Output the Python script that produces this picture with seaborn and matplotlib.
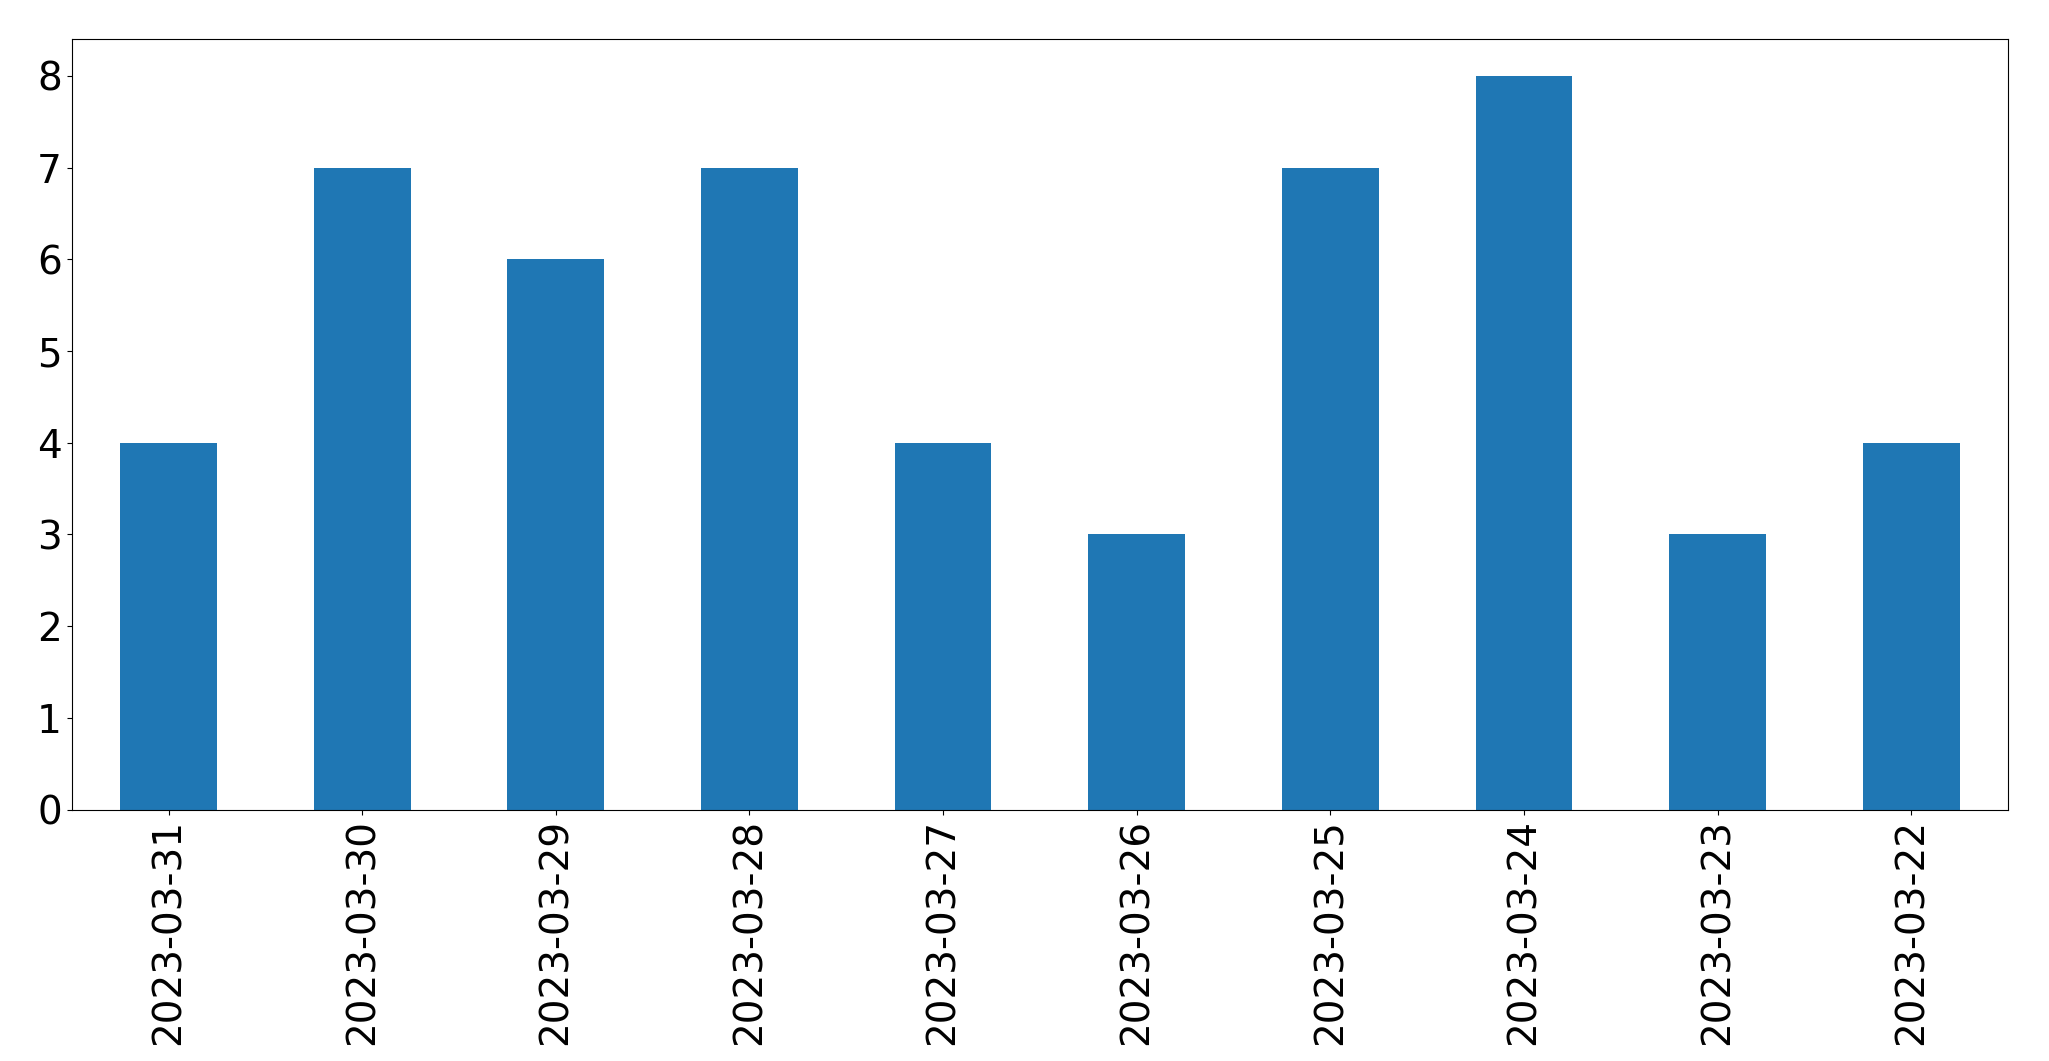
import matplotlib
matplotlib.use("Agg")
import matplotlib.pyplot as plt
import seaborn as sns
import pandas as pd

dates = ["2023-03-31","2023-03-30","2023-03-29","2023-03-28","2023-03-27",
         "2023-03-26","2023-03-25","2023-03-24","2023-03-23","2023-03-22"]
counts = [4,7,6,7,4,3,7,8,3,4]

df = pd.DataFrame({"date": dates, "count": counts})
fig = plt.figure(figsize=(20.49, 10.61), dpi=100)
ax = fig.add_axes([0.035, 0.237, 0.945, 0.726])
sns.barplot(data=df, x="date", y="count", order=dates, color="#1f77b4",
            saturation=1, width=0.5, ax=ax)
ax.set_xlim(-0.5, 9.5)
ax.set_ylim(0, 8.4)
ax.set_xlabel("")
ax.set_ylabel("")
ax.tick_params(axis="both", labelsize=28)
plt.setp(ax.get_xticklabels(), rotation=90)
fig.savefig("out.png", dpi=100)
